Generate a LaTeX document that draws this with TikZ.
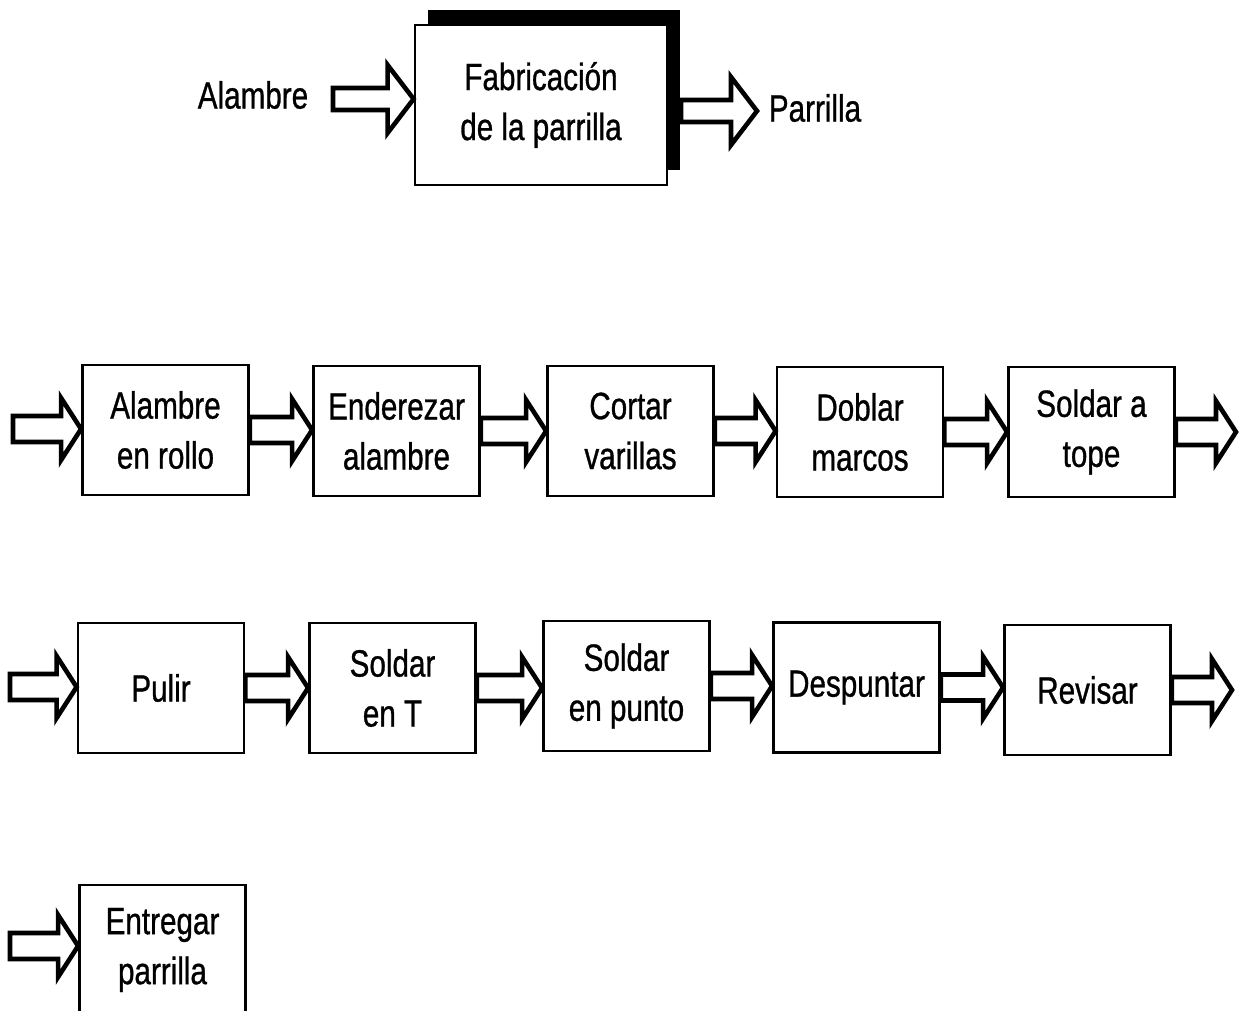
\documentclass[tikz,border=0pt]{standalone}
\usepackage{fontspec}
\setmainfont{Liberation Sans}[FakeStretch=0.78,FakeBold=0.8]
\usetikzlibrary{calc,shadows}

\tikzset{
  stepbox/.style={draw,line width=1.4pt,fill=white,minimum width=83pt,
    minimum height=65pt,inner sep=2pt,align=center,
    font=\fontsize{19}{25}\selectfont},
  txt/.style={font=\fontsize{19}{25}\selectfont},
  blockarrow/.style n args={3}{draw,line width=2.3pt,fill=white,
    to path={let \p1=(\tikztostart),\p2=(\tikztotarget) in
      (\x1,\y1+#1) -- (\x2-#3,\y1+#1) -- (\x2-#3,\y1+#2) -- (\x2,\y1)
      -- (\x2-#3,\y1-#2) -- (\x2-#3,\y1-#1) -- (\x1,\y1-#1) -- cycle}},
  rowarrow/.style={blockarrow={6.5pt}{15.5pt}{10pt}},
  toparrow/.style={blockarrow={5.5pt}{17pt}{13pt}}
}

\begin{document}
\begin{tikzpicture}[x=0.5pt,y=-0.5pt]
  \useasboundingbox (0,0) rectangle (1243,1011);

  % overall process
  \node[stepbox,minimum width=126pt,minimum height=80pt,
    drop shadow={shadow xshift=6.5pt,shadow yshift=7.5pt,fill=black,opacity=1}]
    (fab) at (541,105) {Fabricación\\de la parrilla};
  \node[txt] (wireLbl) at (253,95) {Alambre};
  \node[txt] (grillLbl) at (815,108) {Parrilla};
  \coordinate (fabIn) at (333,99);
  \coordinate (fabOut) at (681,111);
  \coordinate (fabEnd) at (757,111);
  \draw[toparrow] (fabIn) to (fab.west);
  \draw[toparrow] (fabOut) to (fabEnd);

  % first row
  \node[stepbox] (alambre)    at (165.5,430) {Alambre\\en rollo};
  \node[stepbox] (enderezar)  at (396.5,431) {Enderezar\\alambre};
  \node[stepbox] (cortar)     at (630.5,431) {Cortar\\varillas};
  \node[stepbox] (doblar)     at (860,432)   {Doblar\\marcos};
  \node[stepbox] (soldarTope) at (1091.5,432) {Soldar a\\tope};
  \coordinate (in1) at (13,429);
  \coordinate (out1) at (1236,432);

  % second row
  \node[stepbox] (pulir)       at (161,688)    {Pulir};
  \node[stepbox] (soldarT)     at (392.5,688)  {Soldar\\en T};
  \node[stepbox] (soldarPunto) at (626.5,686)  {Soldar\\en punto};
  \node[stepbox] (despuntar)   at (856.5,687.5) {Despuntar};
  \node[stepbox] (revisar)     at (1087.5,690) {Revisar};
  \coordinate (in2) at (10,687);
  \coordinate (out2) at (1232,687);

  % third row
  \node[stepbox] (entregar) at (162.5,950) {Entregar\\parrilla};
  \coordinate (in3) at (10,946);

  % block arrows
  \draw[rowarrow] (in1) to (alambre.west);
  \draw[rowarrow] (in2) to (pulir.west);
  \draw[rowarrow] (in3) to (entregar.west);
  \foreach \a/\b in {alambre/enderezar,enderezar/cortar,cortar/doblar,
    doblar/soldarTope,pulir/soldarT,soldarT/soldarPunto,
    soldarPunto/despuntar,despuntar/revisar}
    \draw[rowarrow] (\a.east) to (\b.west);
  \draw[rowarrow] (soldarTope.east) to (out1);
  \draw[rowarrow] (revisar.east) to (out2);
\end{tikzpicture}
\end{document}
